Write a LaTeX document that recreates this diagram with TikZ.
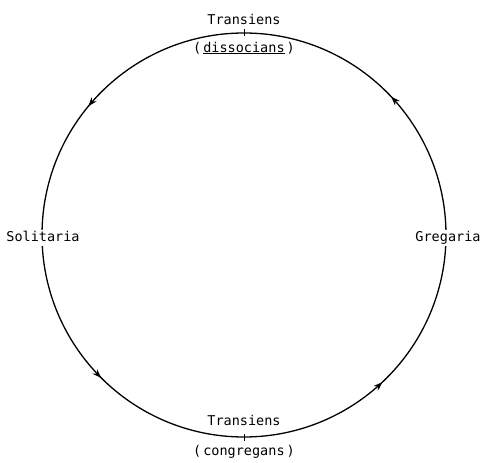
\documentclass[tikz,border=0pt]{standalone}
\usepackage{fontspec}
\setmainfont{TeX Gyre Heros}
\newfontfamily\lblfont{DejaVu Sans Mono}
\usetikzlibrary{decorations.markings,arrows.meta}
\begin{document}
\begin{tikzpicture}[x=1pt,y=1pt,
  lbl/.style={font=\lblfont\fontsize{13.5}{15}\selectfont, inner sep=1.5pt},
  blanklbl/.style={lbl, fill=white, text height=10pt, text depth=3pt},
  flowarrow/.style={postaction={decorate}, decoration={markings,
     mark=at position 0.12 with {\arrow{Stealth[length=9pt,width=6.5pt]}},
     mark=at position 0.39 with {\arrow{Stealth[length=9pt,width=6.5pt]}},
     mark=at position 0.625 with {\arrow{Stealth[length=9pt,width=6.5pt]}},
     mark=at position 0.87 with {\arrow{Stealth[length=9pt,width=6.5pt]}}}},
  tick/.style={line width=1pt}]
\useasboundingbox (0,0) rectangle (493,463);
\coordinate (c) at (244,228);
\draw[line width=1.3pt, flowarrow] (c) circle[radius=202];
\coordinate (ttop) at (244,430);
\coordinate (tbot) at (244,26);
\draw[tick] ([yshift=-3]ttop) -- ([yshift=4]ttop);
\draw[tick] ([yshift=-4]tbot) -- ([yshift=3]tbot);
\node[lbl] (t1) at (244,444) {Transiens};
\node[lbl] (d1) at (244,415) {(\kern2pt\underline{dissocians}\kern2pt)};
\node[blanklbl] (sol) at (43,225) {Solitaria};
\node[blanklbl] (gre) at (448,225) {Gregaria};
\node[lbl] (t2) at (244,43) {Transiens};
\node[lbl] (d2) at (244,11) {(\kern2pt congregans\kern2pt)};
\end{tikzpicture}
\end{document}
